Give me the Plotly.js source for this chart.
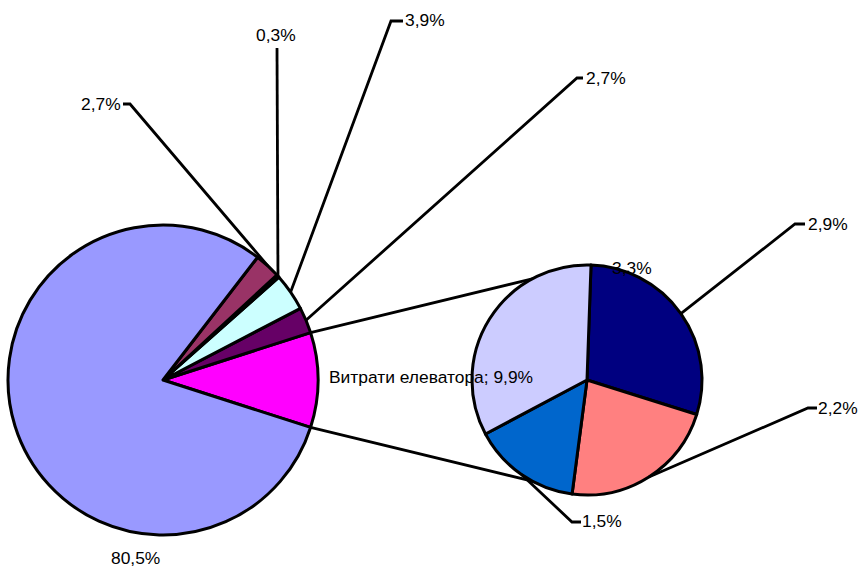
<!DOCTYPE html>
<html>
<head>
<meta charset="utf-8">
<script src="https://cdn.plot.ly/plotly-3.0.1.min.js"></script>
<style>html,body{margin:0;padding:0;background:#fff;}#chart{width:859px;height:571px;}</style>
</head>
<body>
<div id="chart"></div>
<script>
// ---- data ----
const mainLabels = ['Витрати елеватора', 'Стаття 2', 'Стаття 3', 'Стаття 4', 'Стаття 5', 'Стаття 6'];
const mainValues = [9.9, 2.7, 3.9, 0.3, 2.7, 80.5];
const mainText   = ['Витрати елеватора; 9,9%', '2,7%', '3,9%', '0,3%', '2,7%', '80,5%'];
const mainColors = ['#FF00FF', '#660066', '#CCFFFF', '#FFFFCC', '#993366', '#9999FF'];

const subLabels = ['Підстаття 1', 'Підстаття 2', 'Підстаття 3', 'Підстаття 4'];
const subValues = [2.9, 2.2, 1.5, 3.3];
const subText   = ['2,9%', '2,2%', '1,5%', '3,3%'];
const subColors = ['#000080', '#FF8080', '#0066CC', '#CCCCFF'];

// ---- layout geometry (pixels) ----
const W = 859, H = 571;
const mainC = {x: 163, y: 380, r: 155};
const subC  = {x: 587, y: 380, r: 115};
const mainTotal = mainValues.reduce((a, b) => a + b, 0);
const firstDeg = mainValues[0] / mainTotal * 360;
// first slice centred on 3 o'clock; others follow counterclockwise
const mainStart = 90 + firstDeg / 2;
const mainRotation = mainStart - firstDeg;
const subRotation = 2;

const px = x => x / W;
const py = y => 1 - y / H;
function domainOf(c) {
  return {x: [px(c.x - c.r), px(c.x + c.r)], y: [py(c.y + c.r), py(c.y - c.r)]};
}

function anchors(values, c, start, dir) {
  const total = values.reduce((a, b) => a + b, 0);
  let cum = 0;
  return values.map(v => {
    const midFrac = (cum + v / 2) / total;
    cum += v;
    const a = (start + dir * midFrac * 360) * Math.PI / 180;
    return [c.x + c.r * Math.sin(a), c.y - c.r * Math.cos(a)];
  });
}
const mainAnch = anchors(mainValues, mainC, mainStart, -1);
const subAnch  = anchors(subValues, subC, subRotation, 1);

const mainLabelPos = [
  {x: 431, y: 377, lead: null},
  {x: 606, y: 78,  lead: [[583, 78], [577, 78]]},
  {x: 425, y: 20,  lead: [[403, 21], [391, 21]]},
  {x: 276, y: 35,  lead: [[277, 48]]},
  {x: 101, y: 104, lead: [[123, 104], [130, 104]]},
  {x: 135, y: 558, lead: null}
];
const subLabelPos = [
  {x: 828, y: 224, lead: [[805, 224], [795, 224]]},
  {x: 838, y: 408, lead: [[817, 408], [808, 408]]},
  {x: 602, y: 521, lead: [[581, 522], [572, 522]]},
  {x: 632, y: 268, lead: null}
];

const font = {family: 'Liberation Sans, Arial, sans-serif', size: 17.4, color: '#000'};
const annotations = [];
const shapes = [];

function addLabels(texts, pos, anch) {
  texts.forEach((t, i) => {
    const p = pos[i];
    annotations.push({xref: 'paper', yref: 'paper', x: px(p.x), y: py(p.y), text: t,
      showarrow: false, xanchor: 'center', yanchor: 'middle', font: font});
    if (p.lead) {
      const pts = p.lead.concat([anch[i]]);
      const path = pts.map((q, k) => (k ? 'L' : 'M') + px(q[0]).toFixed(5) + ',' + py(q[1]).toFixed(5)).join(' ');
      shapes.push({type: 'path', xref: 'paper', yref: 'paper', path: path,
        line: {color: '#000', width: 2.8}, layer: 'above'});
    }
  });
}
addLabels(mainText, mainLabelPos, mainAnch);
addLabels(subText, subLabelPos, subAnch);

const half = firstDeg / 2 * Math.PI / 180;
const topEdge = [mainC.x + mainC.r * Math.cos(half), mainC.y - mainC.r * Math.sin(half)];
const botEdge = [mainC.x + mainC.r * Math.cos(half), mainC.y + mainC.r * Math.sin(half)];
[[topEdge, [subC.x - 6, subC.y - subC.r + 2]], [botEdge, [subC.x - 6, subC.y + subC.r - 2]]].forEach(seg => {
  shapes.push({type: 'line', xref: 'paper', yref: 'paper',
    x0: px(seg[0][0]), y0: py(seg[0][1]), x1: px(seg[1][0]), y1: py(seg[1][1]),
    line: {color: '#000', width: 2.8}, layer: 'below'});
});

const traces = [
  {type: 'pie', labels: mainLabels, values: mainValues, sort: false, direction: 'counterclockwise',
   rotation: mainRotation, domain: domainOf(mainC), textinfo: 'none', hoverinfo: 'none',
   marker: {colors: mainColors, line: {color: '#000', width: 3}}, showlegend: false},
  {type: 'pie', labels: subLabels, values: subValues, sort: false, direction: 'clockwise',
   rotation: subRotation, domain: domainOf(subC), textinfo: 'none', hoverinfo: 'none',
   marker: {colors: subColors, line: {color: '#000', width: 3}}, showlegend: false}
];

const layout = {
  width: W, height: H, margin: {l: 0, r: 0, t: 0, b: 0},
  paper_bgcolor: '#fff', plot_bgcolor: '#fff', showlegend: false,
  annotations: annotations, shapes: shapes
};
Plotly.newPlot('chart', traces, layout, {displayModeBar: false, staticPlot: true});
</script>
</body>
</html>
